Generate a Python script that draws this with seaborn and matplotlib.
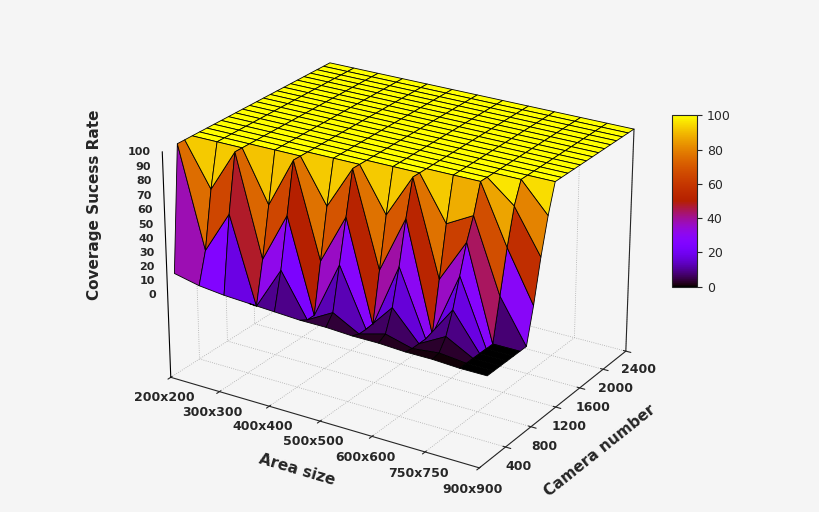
import numpy as np
import pandas as pd
import seaborn as sns
import matplotlib
matplotlib.use('Agg')
import matplotlib.pyplot as plt
from mpl_toolkits.mplot3d import proj3d

sns.set_style('white')
plt.rcParams['font.family'] = ['DejaVu Sans']

area_labels = ['200x200', '300x300', '400x400', '500x500', '600x600', '750x750', '900x900']
area_pos = [0, 0.5, 1, 1.5, 2, 2.5, 3, 3.5, 4, 4.5, 5, 5.5, 6]
cameras = [100, 200, 300, 400, 500, 600, 700, 800, 900, 1000, 1100, 1200,
           1300, 1400, 1500, 1600, 1700, 1800, 1900, 2000, 2100, 2200, 2300, 2400]
coverage = [
    [12, 8, 6, 5, 4, 3, 3, 2, 2, 1, 1, 0, 0],
    [100, 30, 60, 0, 30, 0, 10, 0, 5, 0, 2, 0, 0],
    [100, 70, 100, 30, 65, 0, 40, 0, 20, 0, 10, 0, 0],
    [100, 100, 100, 65, 100, 35, 70, 0, 45, 0, 25, 0, 0],
    [100, 100, 100, 100, 100, 70, 100, 35, 75, 0, 45, 0, 0],
    [100, 100, 100, 100, 100, 100, 100, 70, 100, 35, 65, 0, 0],
    [100, 100, 100, 100, 100, 100, 100, 100, 100, 70, 80, 30, 0],
    [100, 100, 100, 100, 100, 100, 100, 100, 100, 100, 100, 60, 25],
    [100, 100, 100, 100, 100, 100, 100, 100, 100, 100, 100, 85, 55],
    [100, 100, 100, 100, 100, 100, 100, 100, 100, 100, 100, 100, 80],
] + [[100] * 13 for _ in range(14)]
z_ticks = [0, 10, 20, 30, 40, 50, 60, 70, 80, 90, 100]

X, Y = np.meshgrid(area_pos, cameras)
Z = np.array(coverage, dtype=float)

fig = plt.figure(figsize=(8.2, 5.12), dpi=100)
fig.patch.set_facecolor('#f5f5f5')
ax = fig.add_axes([0.12, -0.01, 0.72, 1.0], projection='3d')
ax.set_facecolor('#f5f5f5')
surf = ax.plot_surface(X, Y, Z, cmap='gnuplot', vmin=0, vmax=100,
                       edgecolor='black', linewidth=0.6, rstride=1, cstride=1,
                       antialiased=True, shade=False)
ax.view_init(elev=24, azim=-58)
ax.set_xlim(0, 6)
ax.set_ylim(0, 2400)
ax.set_zlim(-60, 100)
ax.set_xticks(range(7))
ax.set_xticklabels(area_labels, fontsize=9, fontweight='bold')
ax.set_yticks([400, 800, 1200, 1600, 2000, 2400])
ax.set_yticklabels(['400', '800', '1200', '1600', '2000', '2400'], fontsize=9, fontweight='bold')
ax.tick_params(axis='x', pad=0)
ax.tick_params(axis='y', pad=0)
ax.set_zticks([])
ax.set_xlabel('Area size', fontsize=11, fontweight='bold', labelpad=6)
ax.set_ylabel('Camera number', fontsize=11, fontweight='bold', labelpad=6)
for a in (ax.xaxis, ax.yaxis, ax.zaxis):
    a.set_pane_color((1, 1, 1, 0))
    a._axinfo['grid'].update(color='#aaaaaa', linestyle=':', linewidth=0.6)
ax.set_box_aspect((1.4, 1.15, 0.95))

# z axis drawn at the front-left corner, gnuplot style
ax.plot([0, 0], [0, 0], [-60, 100], color='black', linewidth=0.8)
fig.canvas.draw()
for z in z_ticks:
    px, py, _ = proj3d.proj_transform(-0.15, -60, z, ax.get_proj())
    ax.text2D(px, py, str(z), fontsize=8, fontweight='bold', ha='right', va='center')
fig.text(0.115, 0.6, 'Coverage Sucess Rate', rotation=90, fontsize=11,
         fontweight='bold', ha='center', va='center')

cax = fig.add_axes([0.82, 0.44, 0.03, 0.335])
cb = fig.colorbar(surf, cax=cax, ticks=[0, 20, 40, 60, 80, 100])
cb.ax.tick_params(labelsize=9)
plt.savefig('out.png', dpi=100, facecolor=fig.get_facecolor())
